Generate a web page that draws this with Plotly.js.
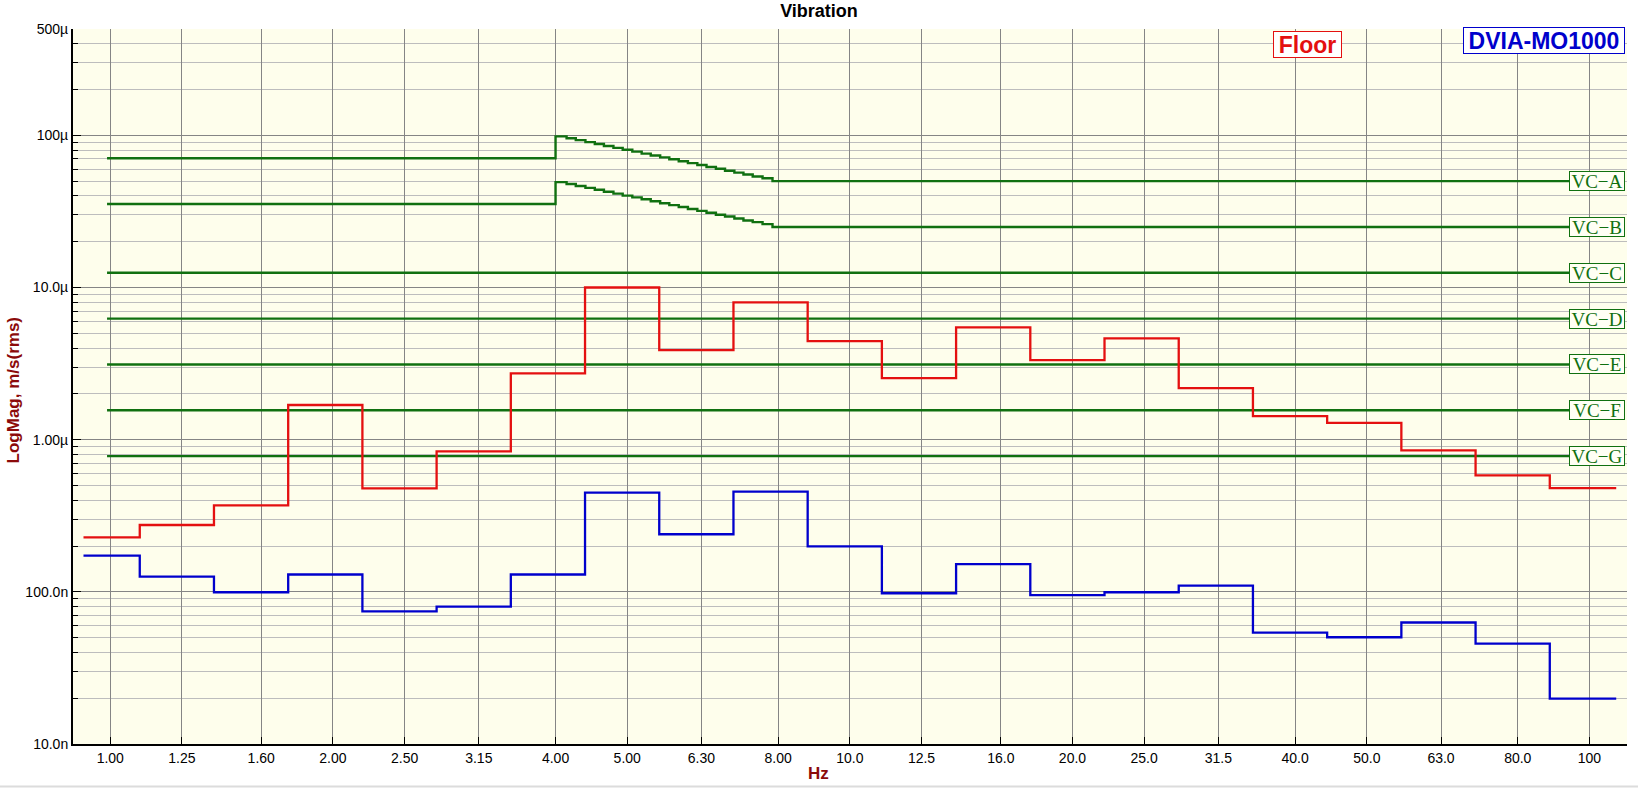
<!DOCTYPE html>
<html>
<head>
<meta charset="utf-8">
<script src="https://cdn.plot.ly/plotly-3.0.1.min.js"></script>
<style>
  html, body { margin: 0; padding: 0; background: #ffffff; }
  #chart { width: 1638px; height: 788px; }
</style>
</head>
<body>
<div id="chart"></div>
<script>
// ---------- data ----------
// nominal 1/3-octave band labels (x axis)
const bandNominal = [1, 1.25, 1.6, 2, 2.5, 3.15, 4, 5, 6.3, 8, 10, 12.5, 16, 20, 25, 31.5, 40, 50, 63, 80, 100];
const bandLabels  = ['1.00','1.25','1.60','2.00','2.50','3.15','4.00','5.00','6.30','8.00','10.0','12.5','16.0','20.0','25.0','31.5','40.0','50.0','63.0','80.0','100'];
// base-2 band index (centre = 1000 * 2^(n/3))
const bandIndex = [-30,-29,-28,-27,-26,-25,-24,-23,-22,-21,-20,-19,-18,-17,-16,-15,-14,-13,-12,-11,-10];

// Floor spectrum, m/s rms per band
const floorVals = [0.228e-6, 0.275e-6, 0.370e-6, 1.69e-6, 0.479e-6, 0.838e-6, 2.73e-6, 10.0e-6, 3.88e-6, 7.98e-6,
                   4.44e-6, 2.54e-6, 5.47e-6, 3.33e-6, 4.63e-6, 2.18e-6, 1.43e-6, 1.29e-6, 0.851e-6, 0.583e-6, 0.481e-6];
// DVIA-MO1000 spectrum, m/s rms per band
const dviaVals = [173e-9, 126e-9, 99.4e-9, 130e-9, 74.4e-9, 80.0e-9, 130e-9, 449e-9, 239e-9, 456e-9,
                  199e-9, 97.9e-9, 152e-9, 95.1e-9, 99.4e-9, 110e-9, 54.0e-9, 50.3e-9, 62.9e-9, 45.7e-9, 19.9e-9];

// span of the measured traces (Hz)
const traceStart = 0.92;
const traceEnd = 108.7;
const vcStart = 0.99;

// VC criteria
const vcNames = ['VC\u2212A','VC\u2212B','VC\u2212C','VC\u2212D','VC\u2212E','VC\u2212F','VC\u2212G'];
const vcLow  = [70.7e-6, 35.4e-6, 12.5e-6, 6.25e-6, 3.12e-6, 1.56e-6, 0.78e-6];   // below 4 Hz
const vcHigh = [50.0e-6, 25.0e-6, 12.5e-6, 6.25e-6, 3.12e-6, 1.56e-6, 0.78e-6];   // above 8 Hz
// fine (1/24 octave) step frequencies of the 4-8 Hz transition
const vcSlopeFreqs = [4.00, 4.14, 4.26, 4.39, 4.52, 4.65, 4.79, 4.93, 5.08, 5.23, 5.38, 5.54,
                      5.70, 5.87, 6.04, 6.22, 6.40, 6.59, 6.78, 6.98, 7.18, 7.39, 7.62, 7.86];
const vcASlope = [98.5e-6, 95.7e-6, 93.0e-6, 90.3e-6, 87.7e-6, 85.2e-6, 82.8e-6, 80.5e-6, 78.2e-6, 75.9e-6, 73.8e-6, 71.7e-6,
                  69.6e-6, 67.6e-6, 65.7e-6, 63.8e-6, 62.0e-6, 60.3e-6, 58.5e-6, 56.9e-6, 55.3e-6, 53.7e-6, 52.2e-6];
const vcBSlope = [49.3e-6, 47.9e-6, 46.5e-6, 45.2e-6, 43.9e-6, 42.6e-6, 41.4e-6, 40.2e-6, 39.1e-6, 38.0e-6, 36.9e-6, 35.8e-6,
                  34.8e-6, 33.8e-6, 32.8e-6, 31.9e-6, 31.0e-6, 30.1e-6, 29.3e-6, 28.4e-6, 27.6e-6, 26.9e-6, 26.1e-6];

// y axis ticks
const yTickVals = [1e-8, 1e-7, 1e-6, 1e-5, 1e-4, 5e-4];
const yTickText = ['10.0n', '100.0n', '1.00\u00b5', '10.0\u00b5', '100\u00b5', '500\u00b5'];
const yMinorMult = [2, 3, 4, 5, 6, 7, 8, 9];
const yMinorDecades = [1e-8, 1e-7, 1e-6, 1e-5];
const yMinorTop = [2e-4, 3e-4, 4e-4];

// ---------- build ----------
function bandEdge(n, side) { return 1000 * Math.pow(2, (n + side * 0.5) / 3); }

function stepTrace(vals) {
  const x = [traceStart], y = [vals[0]];
  for (let i = 0; i < vals.length; i++) {
    const hi = (i === vals.length - 1) ? traceEnd : bandEdge(bandIndex[i], 1);
    x.push(hi); y.push(vals[i]);
    if (i < vals.length - 1) { x.push(hi); y.push(vals[i + 1]); }
  }
  return {x, y};
}

function vcTrace(k) {
  const x = [vcStart], y = [vcLow[k]];
  let slope = null;
  if (k === 0) slope = vcASlope;
  if (k === 1) slope = vcBSlope;
  if (slope) {
    x.push(vcSlopeFreqs[0]); y.push(vcLow[k]);
    for (let i = 0; i < slope.length; i++) {
      x.push(vcSlopeFreqs[i]); y.push(slope[i]);
      x.push(vcSlopeFreqs[i + 1]); y.push(slope[i]);
    }
    x.push(vcSlopeFreqs[vcSlopeFreqs.length - 1]); y.push(vcHigh[k]);
  }
  x.push(traceEnd); y.push(vcHigh[k]);
  return {x, y};
}

const GREEN = '#107010';
const RED = '#e41010';
const BLUE = '#0000cc';
const DARKRED = '#8b0a0a';
const FONT = 'Liberation Sans, Arial, sans-serif';

const traces = [];
for (let k = 0; k < vcNames.length; k++) {
  const t = vcTrace(k);
  traces.push({x: t.x, y: t.y, type: 'scatter', mode: 'lines', name: vcNames[k],
               line: {color: GREEN, width: 2.4}, hoverinfo: 'skip'});
}
const fl = stepTrace(floorVals);
traces.push({x: fl.x, y: fl.y, type: 'scatter', mode: 'lines', name: 'Floor', line: {color: RED, width: 2.3}});
const dv = stepTrace(dviaVals);
traces.push({x: dv.x, y: dv.y, type: 'scatter', mode: 'lines', name: 'DVIA-MO1000', line: {color: BLUE, width: 2.3}});

const yMinorVals = [];
yMinorDecades.forEach(d => yMinorMult.forEach(m => yMinorVals.push(m * d)));
yMinorTop.forEach(v => yMinorVals.push(v));

const annotations = [];
for (let k = 0; k < vcNames.length; k++) {
  annotations.push({
    text: vcNames[k], xref: 'paper', x: 0.9987, xanchor: 'right',
    yref: 'y', y: Math.log10(vcHigh[k]), yanchor: 'middle', showarrow: false,
    font: {family: 'Liberation Serif, Times New Roman, serif', size: 19, color: GREEN},
    bgcolor: '#fffff4', bordercolor: GREEN, borderwidth: 1, borderpad: 0, width: 54, height: 18
  });
}
annotations.push({
  text: '<b>Floor</b>', xref: 'paper', yref: 'paper', x: 0.7944, y: 0.979, xanchor: 'center', yanchor: 'middle',
  showarrow: false, font: {family: FONT, size: 23, color: RED},
  bgcolor: '#ffffff', bordercolor: RED, borderwidth: 1, borderpad: 0, width: 67, height: 25
});
annotations.push({
  text: '<b>DVIA-MO1000</b>', xref: 'paper', yref: 'paper', x: 0.9466, y: 0.9836, xanchor: 'center', yanchor: 'middle',
  showarrow: false, font: {family: FONT, size: 23, color: BLUE},
  bgcolor: '#ffffff', bordercolor: BLUE, borderwidth: 1, borderpad: 0, width: 160, height: 25
});
annotations.push({
  text: '<b>Hz</b>', xref: 'paper', yref: 'paper', x: 0.480, y: -0.0406, xanchor: 'center', yanchor: 'middle',
  showarrow: false, font: {family: FONT, size: 17, color: DARKRED}
});
annotations.push({
  text: '<b>LogMag, m/s(rms)</b>', xref: 'paper', yref: 'paper', x: -0.0384, y: 0.495, xanchor: 'center', yanchor: 'middle',
  textangle: -90, showarrow: false, font: {family: FONT, size: 17, color: DARKRED}
});

const layout = {
  width: 1638, height: 788,
  margin: {l: 73, r: 11, t: 29, b: 44, pad: 0},
  paper_bgcolor: '#ffffff',
  plot_bgcolor: '#fefeec',
  showlegend: false,
  title: {text: '<b>Vibration</b>', font: {family: FONT, size: 18, color: '#000000'},
          xref: 'container', x: 0.5, xanchor: 'center', yref: 'container', y: 0.987, yanchor: 'middle'},
  xaxis: {
    type: 'log', range: [-0.0504, 2.0508], autorange: false,
    tickmode: 'array', tickvals: bandNominal, ticktext: bandLabels,
    ticks: 'inside', ticklen: 7, tickwidth: 1, tickcolor: '#000000',
    showgrid: true, gridcolor: '#858585', gridwidth: 1,
    showline: true, linecolor: '#000000', linewidth: 2, mirror: false,
    tickfont: {family: FONT, size: 14, color: '#000000'},
    zeroline: false, fixedrange: true
  },
  yaxis: {
    type: 'log', range: [-8, Math.log10(5e-4)], autorange: false,
    tickmode: 'array', tickvals: yTickVals, ticktext: yTickText,
    ticks: 'inside', ticklen: 8, tickwidth: 1, tickcolor: '#000000',
    showgrid: true, gridcolor: '#858585', gridwidth: 1,
    minor: {tickmode: 'array', tickvals: yMinorVals, ticks: 'inside', ticklen: 5, tickwidth: 1,
            tickcolor: '#000000', showgrid: true, gridcolor: '#bdbdbd', gridwidth: 1},
    showline: true, linecolor: '#000000', linewidth: 2, mirror: false,
    tickfont: {family: FONT, size: 14, color: '#000000'},
    zeroline: false, fixedrange: true
  },
  annotations: annotations,
  shapes: [{type: 'line', xref: 'paper', yref: 'paper', x0: -0.047, x1: 1.008, y0: -0.0594, y1: -0.0594,
            line: {color: '#dcdcdc', width: 2}}]
};

Plotly.newPlot('chart', traces, layout, {displayModeBar: false, staticPlot: true});
</script>
</body>
</html>
